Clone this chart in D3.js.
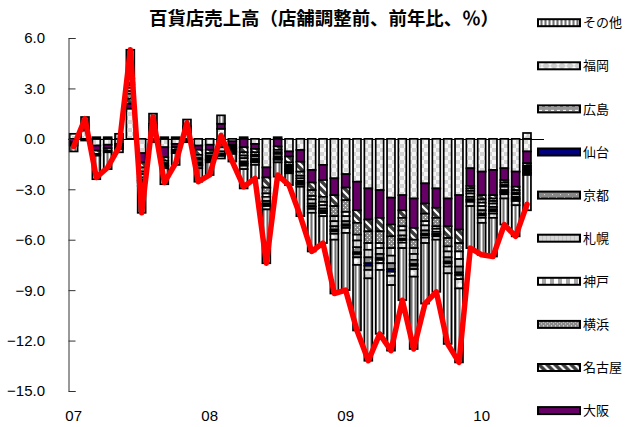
<!DOCTYPE html>
<html><head><meta charset="utf-8">
<script src="https://cdn.jsdelivr.net/npm/d3@7"></script>
<style>body{margin:0;background:#fff}svg{display:block}</style>
</head><body><svg id="c" width="635" height="427"></svg>
<script>
const months = ["2007/01","2007/02","2007/03","2007/04","2007/05","2007/06","2007/07","2007/08","2007/09","2007/10","2007/11","2007/12",
"2008/01","2008/02","2008/03","2008/04","2008/05","2008/06","2008/07","2008/08","2008/09","2008/10","2008/11","2008/12",
"2009/01","2009/02","2009/03","2009/04","2009/05","2009/06","2009/07","2009/08","2009/09","2009/10","2009/11","2009/12",
"2010/01","2010/02","2010/03","2010/04","2010/05","2010/06"];
const tickMonths = ["2007/01","2008/01","2009/01","2010/01"];
const tickLabels = ["07","08","09","10"];
const yTicks = [6,3,0,-3,-6,-9,-12,-15];

const tokyo = [0.3,0.5,-0.4,-0.35,-0.3,1.8,-0.85,0.5,-0.5,-0.3,0.4,-0.4,-0.35,0.6,-0.15,0.1,-0.3,-1.7,0.1,-0.75,-0.66,-1.85,-1.55,-2.35,-2.1,-2.55,-2.95,-3.05,-3.5,-3.35,-3.55,-2.65,-2.95,-3.55,-3.35,-1.75,-1.95,-1.85,-1.75,-1.95,-0.75];
const osaka = [-0.2,0.1,-0.3,-0.2,-0.1,0.3,-0.55,0.1,-0.6,-0.2,0.1,-0.25,-0.3,0.3,-0.2,-0.5,-0.3,-0.6,-0.45,-0.3,-0.7,-0.75,-0.9,-1.0,-0.8,-1.7,-1.85,-1.65,-1.6,-0.9,-1.75,-1.2,-1.15,-1.65,-2.05,-1.05,-1.4,-1.5,-0.7,-0.9,-0.7];
const nagoya = [-0.1,0.1,-0.2,-0.15,-0.1,0.3,-0.3,0.1,-0.2,-0.15,0.1,-0.3,-0.2,-0.2,-0.1,-0.3,-0.2,-0.6,-0.2,-0.35,-0.59,-0.45,-1.0,-0.65,-0.75,-0.75,-0.7,-0.8,-0.7,-0.45,-0.7,-0.6,-0.6,-0.7,-0.8,-0.15,-0.25,-0.2,-0.15,-0.2,-0.15];
const yokohama = [0,0.1,-0.1,-0.1,0,0.3,-0.25,0.1,-0.15,-0.1,0.05,-0.2,-0.15,-0.15,-0.1,-0.2,-0.15,-0.35,-0.15,-0.15,-0.25,-0.35,-0.3,-0.6,-0.7,-0.7,-0.7,-0.7,-0.7,-0.5,-0.5,-0.45,-0.5,-0.5,-0.5,-0.15,-0.2,-0.15,-0.15,-0.15,-0.1];
const kobe = [0,0,0.1,0.1,0,0.15,-0.15,0,0.1,0.1,0,-0.1,-0.1,-0.15,-0.05,-0.15,-0.1,-0.2,-0.1,-0.1,-0.15,-0.2,-0.2,-0.3,-0.25,-0.35,-0.4,-0.3,-0.45,-0.25,-0.35,-0.25,-0.15,-0.3,-0.45,-0.15,-0.2,-0.15,-0.1,-0.1,-0.1];
const sapporo = [0,-0.1,0,0,-0.1,0.2,-0.2,-0.1,-0.1,0,-0.1,-0.15,-0.1,-0.25,-0.1,-0.2,-0.15,-0.25,-0.15,-0.1,-0.15,-0.25,-0.2,-0.3,-0.3,-0.4,-0.45,-0.35,-0.45,-0.3,-0.35,-0.3,-0.18,-0.35,-0.45,-0.2,-0.25,-0.2,-0.2,-0.15,-0.1];
const kyoto = [0,0,0,0,0,0.15,-0.15,-0.1,-0.05,0,-0.1,-0.1,-0.05,-0.15,-0.05,-0.1,-0.1,-0.15,-0.1,-0.1,-0.1,-0.15,-0.12,-0.2,-0.2,-0.3,-0.35,-0.25,-0.35,-0.2,-0.25,-0.2,-0.12,-0.25,-0.35,-0.15,-0.2,-0.15,-0.1,-0.1,-0.1];
const sendai = [0,0,0,0,0,0.05,-0.05,0,0,0,0,-0.05,0,-0.05,0,-0.05,-0.05,-0.05,-0.05,-0.05,-0.05,-0.05,-0.05,-0.1,-0.08,-0.1,-0.15,-0.1,-0.15,-0.08,-0.1,-0.08,-0.05,-0.1,-0.15,-0.05,-0.1,-0.1,-0.05,-0.05,-0.05];
const hiroshima = [0,0,0,0,0,0.1,-0.1,0,-0.05,0,0,-0.05,-0.05,-0.07,-0.05,-0.1,-0.05,-0.1,-0.05,-0.05,-0.08,-0.12,-0.1,-0.15,-0.12,-0.2,-0.25,-0.2,-0.25,-0.15,-0.2,-0.15,-0.1,-0.2,-0.25,-0.1,-0.15,-0.15,-0.1,-0.1,-0.1];
const fukuoka = [-0.1,0,0,0,-0.2,0.25,-0.2,0.1,-0.1,-0.1,0.1,-0.15,-0.1,-0.15,-0.1,-0.2,-0.15,-0.2,-0.15,-0.1,-0.12,-0.23,-0.18,-0.35,-0.3,-0.45,-0.5,-0.4,-0.55,-0.32,-0.45,-0.32,-0.2,-0.4,-0.55,-0.25,-0.3,-0.25,-0.25,-0.25,0.35];
const others = [-0.35,0.5,-1.4,-1.0,0.3,1.7,-1.6,0.6,-0.95,-0.7,0.4,-0.8,-0.75,0.5,-0.45,-1.15,-0.8,-3.2,-0.85,-0.7,-1.75,-2.3,-1.6,-3.2,-3.4,-3.9,-4.9,-3.8,-3.9,-3.1,-4.3,-3.6,-3.1,-4.2,-4.4,-2.5,-1.9,-2.3,-1.55,-1.85,-2.1];
const total = [-0.45,1.2,-2.3,-1.7,-0.5,5.3,-4.4,1.3,-2.6,-1.45,0.95,-2.55,-2.15,0.2,-1.35,-2.85,-2.35,-7.4,-2.15,-2.75,-4.6,-6.7,-6.2,-9.2,-9.0,-11.4,-13.2,-11.6,-12.6,-9.6,-12.5,-9.8,-9.1,-12.2,-13.3,-6.5,-6.9,-7.0,-5.1,-5.8,-3.9];

const keys = ["東京","大阪","名古屋","横浜","神戸","札幌","京都","仙台","広島","福岡","その他"];
const seriesVals = {"東京":tokyo,"大阪":osaka,"名古屋":nagoya,"横浜":yokohama,"神戸":kobe,"札幌":sapporo,"京都":kyoto,"仙台":sendai,"広島":hiroshima,"福岡":fukuoka,"その他":others};
const legendKeys = ["その他","福岡","広島","仙台","京都","札幌","神戸","横浜","名古屋","大阪"];
const title = "百貨店売上高（店舗調整前、前年比、％）";

const svg = d3.select("#c");
const defs = svg.append("defs");
function pat(id, w, h, bg, draw){
  const p = defs.append("pattern").attr("id", id).attr("patternUnits","userSpaceOnUse").attr("width", w).attr("height", h);
  p.append("rect").attr("width", w).attr("height", h).attr("fill", bg);
  if (draw) draw(p);
}
pat("p東京", 8, 8, "#f6f6f6", p => { p.append("rect").attr("width",4).attr("height",4).attr("fill","#d4d4d4"); p.append("rect").attr("x",4).attr("y",4).attr("width",4).attr("height",4).attr("fill","#d4d4d4"); });
pat("p大阪", 4, 4, "#660066");
pat("p名古屋", 8, 8, "#3c3c3c", p => { p.append("path").attr("d","M0,0L8,8M-2,6L2,10M6,-2L10,2").attr("stroke","#fff").attr("stroke-width",2.2); });
pat("p横浜", 4, 4, "#8a8a8a", p => { p.append("rect").attr("x",1).attr("y",1).attr("width",1).attr("height",1).attr("fill","#fff"); p.append("rect").attr("x",3).attr("y",3).attr("width",1).attr("height",1).attr("fill","#e0e0e0"); });
pat("p神戸", 8, 4, "#ffffff", p => { p.append("rect").attr("x",4).attr("width",4).attr("height",4).attr("fill","#a8a8a8"); });
pat("p札幌", 4, 4, "#d6d6d6", p => { p.append("rect").attr("width",1).attr("height",4).attr("fill","#c2c2c2"); });
pat("p京都", 8, 6, "#888888", p => { p.append("rect").attr("x",2).attr("y",2).attr("width",1).attr("height",1).attr("fill","#fff"); p.append("rect").attr("x",6).attr("y",5).attr("width",1).attr("height",1).attr("fill","#ddd"); });
pat("p仙台", 4, 4, "#000080");
pat("p広島", 6, 4, "#969696", p => { p.append("rect").attr("x",1).attr("y",1).attr("width",3).attr("height",1).attr("fill","#fff"); });
pat("p福岡", 8, 6, "#cdcdcd", p => { p.append("path").attr("d","M4,0L7,3L4,6L1,3Z").attr("fill","#fafafa"); });
pat("pその他", 4, 4, "#b0b0b0", p => { p.append("rect").attr("x",1).attr("width",1).attr("height",4).attr("fill","#ffffff"); p.append("rect").attr("x",3).attr("width",1).attr("height",4).attr("fill","#707070"); });

const x = d3.scaleBand().domain(months).range([68, 544]).paddingInner(0.3).paddingOuter(0.15);
const y = d3.scaleLinear().domain([-15, 6]).range([391, 38]);

const rows = total.map((t, i) => { const r = {month: months[i]}; keys.forEach(k => r[k] = seriesVals[k][i]); return r; });
const stacked = d3.stack().keys(keys).offset(d3.stackOffsetDiverging)(rows);

// zero axis line
svg.append("line").attr("x1", 68).attr("x2", 544).attr("y1", Math.round(y(0)) + 0.5).attr("y2", Math.round(y(0)) + 0.5)
  .attr("stroke", "#000").attr("stroke-width", 1);

// bars
svg.append("g").selectAll("g").data(stacked).join("g")
  .attr("fill", s => `url(#p${s.key})`)
  .selectAll("rect").data(s => s.filter(d => d[1] - d[0] !== 0)).join("rect")
  .attr("x", d => x(d.data.month))
  .attr("width", x.bandwidth())
  .attr("y", d => y(Math.max(d[0], d[1])))
  .attr("height", d => Math.abs(y(d[0]) - y(d[1])))
  .attr("stroke", "#000").attr("stroke-width", 1.7);

// total line
const line = d3.line().x((d, i) => x(months[i]) + x.bandwidth() / 2).y(d => y(d));
svg.append("path").datum(total).attr("d", line).attr("fill", "none")
  .attr("stroke", "#ff0000").attr("stroke-width", 5.5).attr("stroke-linejoin", "round").attr("stroke-linecap", "round");

// y axis
const yAxis = d3.axisRight(y).tickValues(yTicks).tickSize(7).tickFormat(() => "");
const ya = svg.append("g").attr("transform", "translate(68.5,0)").call(yAxis);
ya.select(".domain").attr("stroke", "#333");
ya.selectAll(".tick line").attr("stroke", "#333");
svg.append("g").selectAll("text").data(yTicks).join("text")
  .attr("x", 45).attr("y", d => y(d)).attr("dy", "0.36em").attr("text-anchor", "end")
  .attr("font-family", "Liberation Sans, Arial, sans-serif").attr("font-size", 15)
  .text(d => d3.format(".1f")(d));

// x labels
svg.append("g").selectAll("text").data(tickMonths).join("text")
  .attr("x", (d) => x(d) + x.bandwidth() / 2).attr("y", 421).attr("text-anchor", "middle")
  .attr("font-family", "Liberation Sans, Arial, sans-serif").attr("font-size", 15)
  .text((d, i) => tickLabels[i]);

// title
svg.append("text").attr("x", 324).attr("y", 25).attr("text-anchor", "middle")
  .attr("font-family", "Noto Sans CJK JP, sans-serif").attr("font-size", 18).attr("font-weight", "bold")
  .attr("textLength", 350).attr("lengthAdjust", "spacingAndGlyphs")
  .text(title);

// legend
const ly = d3.scaleLinear().domain([0, legendKeys.length - 1]).range([22.7, 410.6]);
const lg = svg.append("g").selectAll("g").data(legendKeys).join("g")
  .attr("transform", (d, i) => `translate(538,${ly(i)})`);
lg.append("rect").attr("x", 0).attr("y", -3.5).attr("width", 42).attr("height", 7)
  .attr("fill", d => `url(#p${d})`).attr("stroke", "#000").attr("stroke-width", 2);
lg.append("text").attr("x", 45).attr("y", 0).attr("dy", "0.36em")
  .attr("font-family", "Noto Sans CJK JP, sans-serif").attr("font-size", 13)
  .text(d => d);
</script></body></html>
